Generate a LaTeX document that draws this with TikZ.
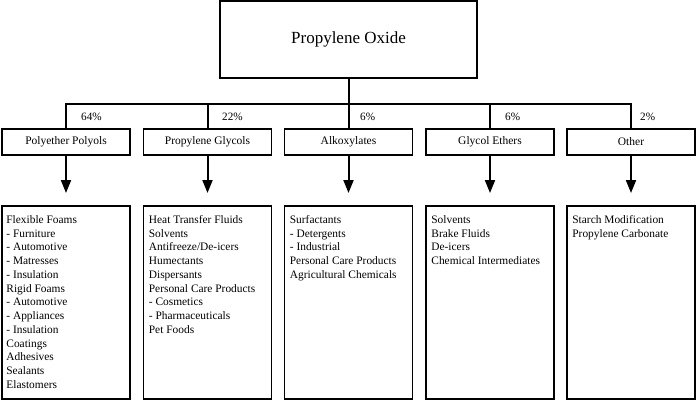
\documentclass[tikz,border=0pt]{standalone}
\usepackage{fontspec}
\setmainfont{Liberation Serif}
\usetikzlibrary{arrows.meta,positioning}
\begin{document}
\begin{tikzpicture}[x=1pt,y=-1pt,
  boxline/.style={draw=black,line width=1.6pt},
  topbox/.style={boxline,minimum width=257pt,minimum height=77pt,inner sep=0pt,font=\fontsize{17}{20}\selectfont},
  catbox/.style={boxline,minimum width=128pt,minimum height=26pt,inner sep=0pt,font=\fontsize{11.5}{13.75}\selectfont},
  usebox/.style={boxline,minimum width=128pt,minimum height=193pt,inner sep=0pt},
  usetext/.style={anchor=north west,inner sep=0pt,align=left,font=\fontsize{11.4}{13.75}\selectfont},
  pct/.style={anchor=west,inner sep=0pt,font=\fontsize{11.2}{13}\selectfont},
  conn/.style={line width=2pt},
  arr/.style={conn,-{Triangle[length=13pt,width=10pt]}}
]
\useasboundingbox (0,0) rectangle (696,400);
\node[topbox] (top) at (348.5,39.5) {Propylene Oxide};
\coordinate (bus) at (348.5,104);
\coordinate (tip) at (0,193);

\node[catbox] (c1) at (66,142) {Polyether Polyols};
\node[catbox] (c2) at (207.5,142) {Propylene Glycols};
\node[catbox] (c3) at (348.5,142) {Alkoxylates};
\node[catbox] (c4) at (490,142) {Glycol Ethers};
\node[catbox] (c5) at (631,142) {Other};

\node[usebox] (b1) at (66,302.5) {};
\node[usebox] (b2) at (207.5,302.5) {};
\node[usebox] (b3) at (348.5,302.5) {};
\node[usebox] (b4) at (490,302.5) {};
\node[usebox] (b5) at (631,302.5) {};

\draw[conn] (top.south) -- (bus);
\draw[conn] (c1.north) |- (bus);
\draw[conn] (c5.north) |- (bus);
\draw[conn] (c2.north) -- (c2.north |- bus);
\draw[conn] (c3.north) -- (c3.north |- bus);
\draw[conn] (c4.north) -- (c4.north |- bus);

\foreach \i in {1,...,5}{
  \draw[arr] (c\i.south) -- (c\i.south |- tip);
}

\node[pct] (p1) at (81,117) {64\%};
\node[pct] (p2) at (222,117) {22\%};
\node[pct] (p3) at (360,117) {6\%};
\node[pct] (p4) at (505,117) {6\%};
\node[pct] (p5) at (640,117) {2\%};

\node[usetext] (t1) at ([xshift=5pt,yshift=-10pt]b1.north west) {Flexible Foams\\- Furniture\\- Automotive\\- Matresses\\- Insulation\\Rigid Foams\\- Automotive\\- Appliances\\- Insulation\\Coatings\\Adhesives\\Sealants\\Elastomers};
\node[usetext] (t2) at ([xshift=6pt,yshift=-10pt]b2.north west) {Heat Transfer Fluids\\Solvents\\Antifreeze/De-icers\\Humectants\\Dispersants\\Personal Care Products\\- Cosmetics\\- Pharmaceuticals\\Pet Foods};
\node[usetext] (t3) at ([xshift=6pt,yshift=-10pt]b3.north west) {Surfactants\\- Detergents\\- Industrial\\Personal Care Products\\Agricultural Chemicals};
\node[usetext] (t4) at ([xshift=6pt,yshift=-10pt]b4.north west) {Solvents\\Brake Fluids\\De-icers\\Chemical Intermediates};
\node[usetext] (t5) at ([xshift=6pt,yshift=-10pt]b5.north west) {Starch Modification\\Propylene Carbonate};
\end{tikzpicture}
\end{document}
